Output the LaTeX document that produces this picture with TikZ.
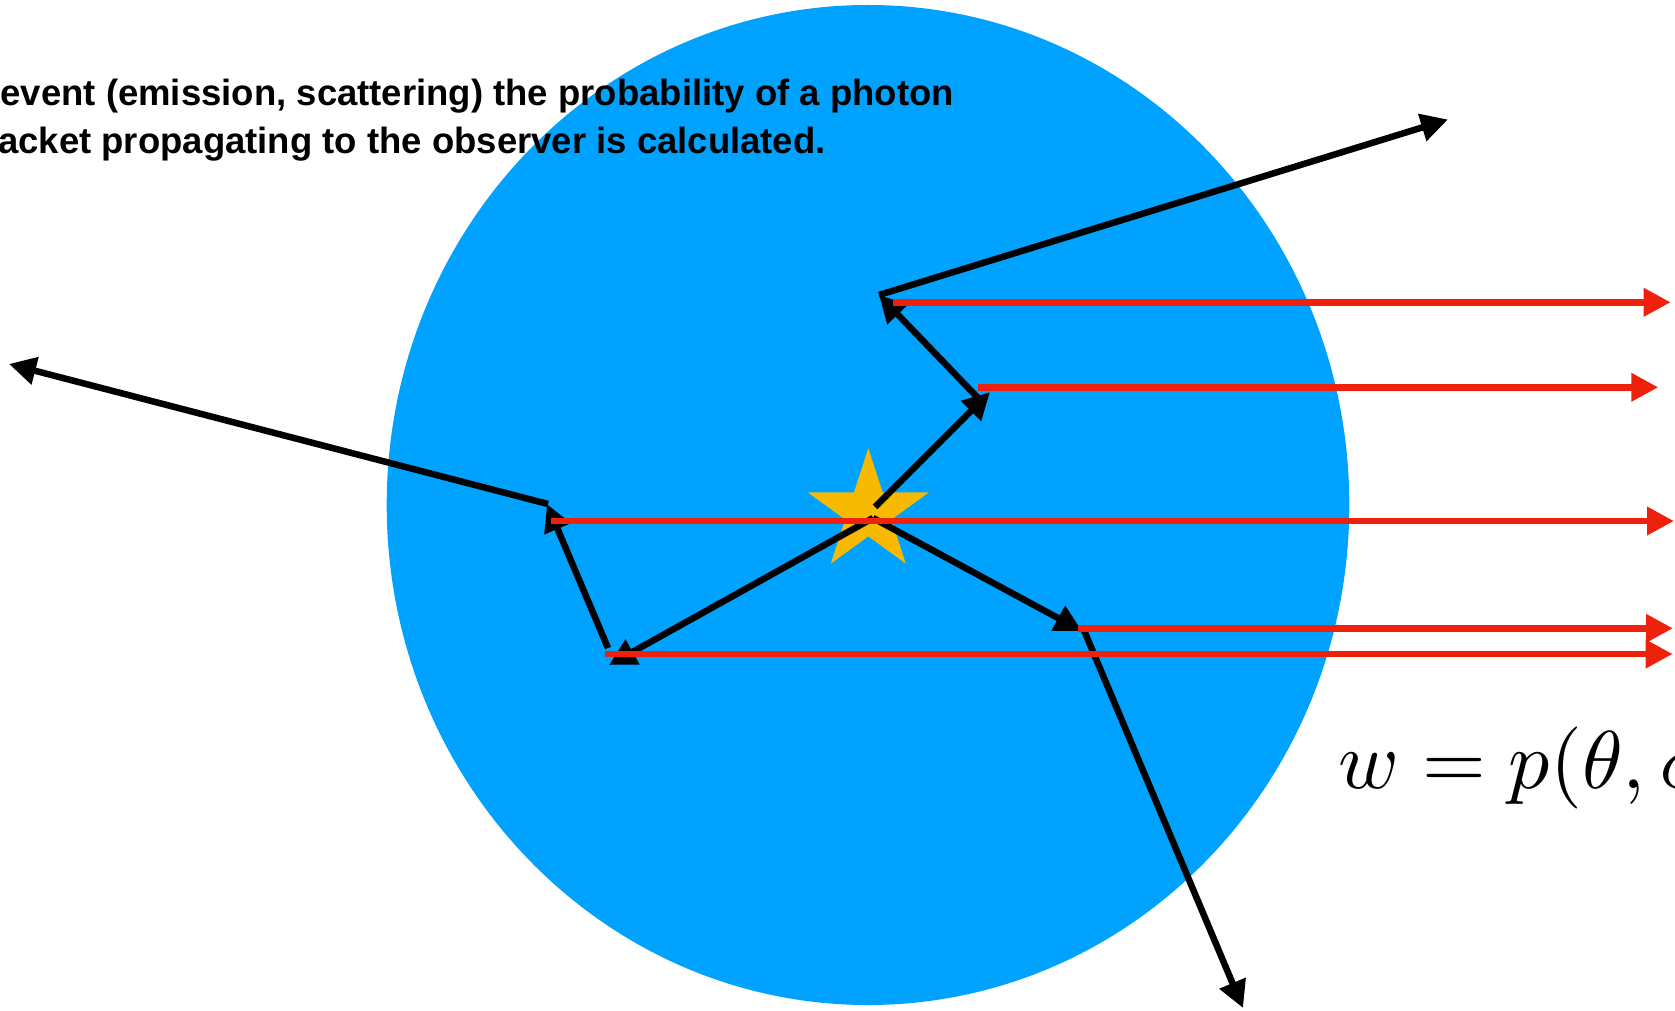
\documentclass[tikz,border=0pt]{standalone}
\usepackage{fontspec}
\setmainfont{Liberation Sans}
\usetikzlibrary{arrows.meta,shapes.geometric}
\definecolor{cblue}{RGB}{0,162,255}
\definecolor{cred}{RGB}{238,34,12}
\definecolor{cstar}{RGB}{248,186,0}
\begin{document}
\begin{tikzpicture}[x=1pt,y=-1pt,
  blk/.style={draw=black,line width=6.5pt,-{Triangle[length=27pt,width=27pt]}},
  redarr/.style={draw=cred,line width=6.7pt,-{Triangle[length=27pt,width=27pt]}},
  caption/.style={inner sep=0pt,font=\fontsize{36.5}{48}\selectfont\bfseries}]
\useasboundingbox (0,0) rectangle (1675,1011);
% medium
\fill[cblue] (868,505) ellipse [x radius=481.3pt, y radius=500pt];
% source star
\node[star,star points=5,star point ratio=2.618,minimum size=127.6pt,inner sep=0pt,fill=cstar] (src) at (868.3,512) {};
% path coordinates
\coordinate (O) at (873,518);
\coordinate (O1) at (875,507);
\coordinate (P3) at (990,392);
\coordinate (P3s) at (978,398);
\coordinate (P4) at (879,295);
\coordinate (T1) at (1448,119.5);
\coordinate (P1) at (609,665);
\coordinate (P1s) at (608,648);
\coordinate (P2) at (547,504);
\coordinate (P2s) at (548,504);
\coordinate (T2) at (9,364);
\coordinate (P5) at (1082,631);
\coordinate (P5s) at (1083,628);
\coordinate (T3) at (1243,1008);
% photon path
\draw[blk] (O1) -- (P3);
\draw[blk] (P3s) -- (P4);
\draw[blk] (P4) -- (T1);
\draw[blk] (O) -- (P1);
\draw[blk] (P1s) -- (P2);
\draw[blk] (P2s) -- (T2);
\draw[blk] (O) -- (P5);
\draw[blk] (P5s) -- (T3);
% peel-off rays towards observer
\coordinate (R1a) at (892.7,302.3); \coordinate (R1b) at (1670.7,302.3);
\coordinate (R2a) at (977.7,387.3); \coordinate (R2b) at (1658.3,387.3);
\coordinate (R3a) at (551,521);     \coordinate (R3b) at (1674,521);
\coordinate (R4a) at (1077.7,628.3);\coordinate (R4b) at (1673,628.3);
\coordinate (R5a) at (605,654);     \coordinate (R5b) at (1672.7,654);
\draw[redarr] (R1a) -- (R1b);
\draw[redarr] (R2a) -- (R2b);
\draw[redarr] (R3a) -- (R3b);
\draw[redarr] (R4a) -- (R4b);
\draw[redarr] (R5a) -- (R5b);
% texts
\node[caption,anchor=base east] (t1) at (954,105.7) {event (emission, scattering) the probability of a photon};
\node[caption,anchor=base west] (t2) at (-2,154) {acket propagating to the observer is calculated.};
\node[inner sep=0pt,anchor=base west,scale=8.2] (w) at (1337,788) {$w = p(\theta, \phi)$};
\end{tikzpicture}
\end{document}
